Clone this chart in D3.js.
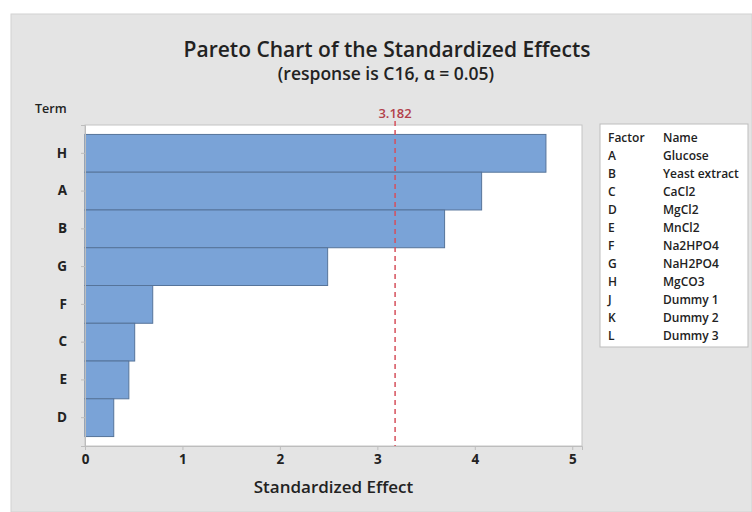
<!DOCTYPE html>
<html>
<head>
<meta charset="utf-8">
<script src="https://cdn.jsdelivr.net/npm/d3@7"></script>
<style>
  body { margin: 0; background: #fff; }
  text { font-family: "Open Sans", "Noto Sans", sans-serif; fill: #222; }
</style>
</head>
<body>
<svg width="752" height="512"></svg>
<script>
// Terms in pareto order and their standardized effects
let terms = ["H", "A", "B", "G", "F", "C", "E", "D"];
let effects = [4.73, 4.07, 3.69, 2.49, 0.695, 0.51, 0.45, 0.295];
let xTicks = [0, 1, 2, 3, 4, 5];
let refValue = 3.182;

// legend table
let factors = ["A", "B", "C", "D", "E", "F", "G", "H", "J", "K", "L"];
let names = ["Glucose", "Yeast extract", "CaCl2", "MgCl2", "MnCl2", "Na2HPO4",
  "NaH2PO4", "MgCO3", "Dummy 1", "Dummy 2", "Dummy 3"];

let width = 752, height = 512;
let svg = d3.select("svg");

// grey panel
svg.append("rect")
  .attr("x", 11).attr("y", 14)
  .attr("width", width - 11).attr("height", height - 14)
  .attr("fill", "#e4e4e4")
  .attr("stroke", "#d2d2d2");

let plotLeft = 85, plotRight = 582, plotTop = 125, plotBottom = 446;

let x = d3.scaleLinear().domain([0, 5.1]).range([plotLeft, plotRight]);
let y = d3.scaleBand().domain(terms).range([plotTop, plotBottom])
  .paddingInner(0).paddingOuter(0.25);

// plot area
svg.append("rect")
  .attr("x", plotLeft).attr("y", plotTop)
  .attr("width", plotRight - plotLeft).attr("height", plotBottom - plotTop)
  .attr("fill", "white")
  .attr("stroke", "#c4c4c4");

// titles
svg.append("text")
  .attr("x", 387).attr("y", 57)
  .attr("text-anchor", "middle")
  .style("font-size", "21px").style("font-weight", 600)
  .text("Pareto Chart of the Standardized Effects");

svg.append("text")
  .attr("x", 386).attr("y", 80)
  .attr("text-anchor", "middle")
  .style("font-size", "17.5px").style("font-weight", 600)
  .text("(response is C16, α = 0.05)");

svg.append("text")
  .attr("x", 35).attr("y", 113)
  .style("font-size", "12.5px").style("font-weight", 600)
  .text("Term");

// bars
svg.append("g")
  .selectAll("rect")
  .data(terms)
  .enter()
  .append("rect")
  .attr("x", x(0))
  .attr("y", (d) => y(d))
  .attr("width", (d, i) => x(effects[i]) - x(0))
  .attr("height", y.bandwidth())
  .attr("fill", "#7aa3d7")
  .attr("stroke", "#56749a")
  .attr("stroke-width", 1);

// reference line
svg.append("line")
  .attr("x1", x(refValue)).attr("x2", x(refValue))
  .attr("y1", plotTop - 4).attr("y2", plotBottom)
  .attr("stroke", "#d6505c")
  .attr("stroke-width", 1.5)
  .attr("stroke-dasharray", "5,4");

svg.append("text")
  .attr("x", x(refValue)).attr("y", 118)
  .attr("text-anchor", "middle")
  .style("font-size", "13px").style("font-weight", 600)
  .style("fill", "#b2404a")
  .text(refValue.toFixed(3));

// axes
let xAxis = svg.append("g")
  .attr("transform", "translate(0," + plotBottom + ")")
  .call(d3.axisBottom(x).tickValues(xTicks).tickSize(4).tickPadding(4).tickFormat(d3.format("d")));
xAxis.select(".domain").attr("stroke", "#bdbdbd");
xAxis.selectAll(".tick line").attr("stroke", "#bdbdbd");
xAxis.selectAll(".tick text")
  .style("font-size", "13.5px").style("font-weight", 700)
  .style("font-family", "'Open Sans', sans-serif").attr("fill", "#2a2a2a");

let yAxis = svg.append("g")
  .attr("transform", "translate(" + plotLeft + ",0)")
  .call(d3.axisLeft(y).tickSize(4).tickPadding(14));
yAxis.select(".domain").attr("stroke", "#bdbdbd");
yAxis.selectAll(".tick line").attr("stroke", "#bdbdbd");
yAxis.selectAll(".tick text")
  .style("font-size", "13.5px").style("font-weight", 700)
  .style("font-family", "'Open Sans', sans-serif").attr("fill", "#2a2a2a");

svg.append("text")
  .attr("x", (plotLeft + plotRight) / 2).attr("y", 493)
  .attr("text-anchor", "middle")
  .style("font-size", "17px").style("font-weight", 600)
  .text("Standardized Effect");

// legend
let legend = svg.append("g");
legend.append("rect")
  .attr("x", 600).attr("y", 124)
  .attr("width", 148).attr("height", 223)
  .attr("fill", "white")
  .attr("stroke", "#bdbdbd");

let rowY = d3.scaleLinear().domain([0, 11]).range([142, 340]);
let header = legend.append("g").style("font-size", "12px").style("font-weight", 600);
header.append("text").attr("x", 608).attr("y", rowY(0)).text("Factor");
header.append("text").attr("x", 663).attr("y", rowY(0)).text("Name");

legend.selectAll(".fac")
  .data(factors)
  .enter()
  .append("text")
  .attr("class", "fac")
  .attr("x", 608)
  .attr("y", (d, i) => rowY(i + 1))
  .style("font-size", "12px").style("font-weight", 600)
  .text((d) => d);

legend.selectAll(".nm")
  .data(names)
  .enter()
  .append("text")
  .attr("class", "nm")
  .attr("x", 663)
  .attr("y", (d, i) => rowY(i + 1))
  .style("font-size", "12px").style("font-weight", 600)
  .text((d) => d);
</script>
</body>
</html>
